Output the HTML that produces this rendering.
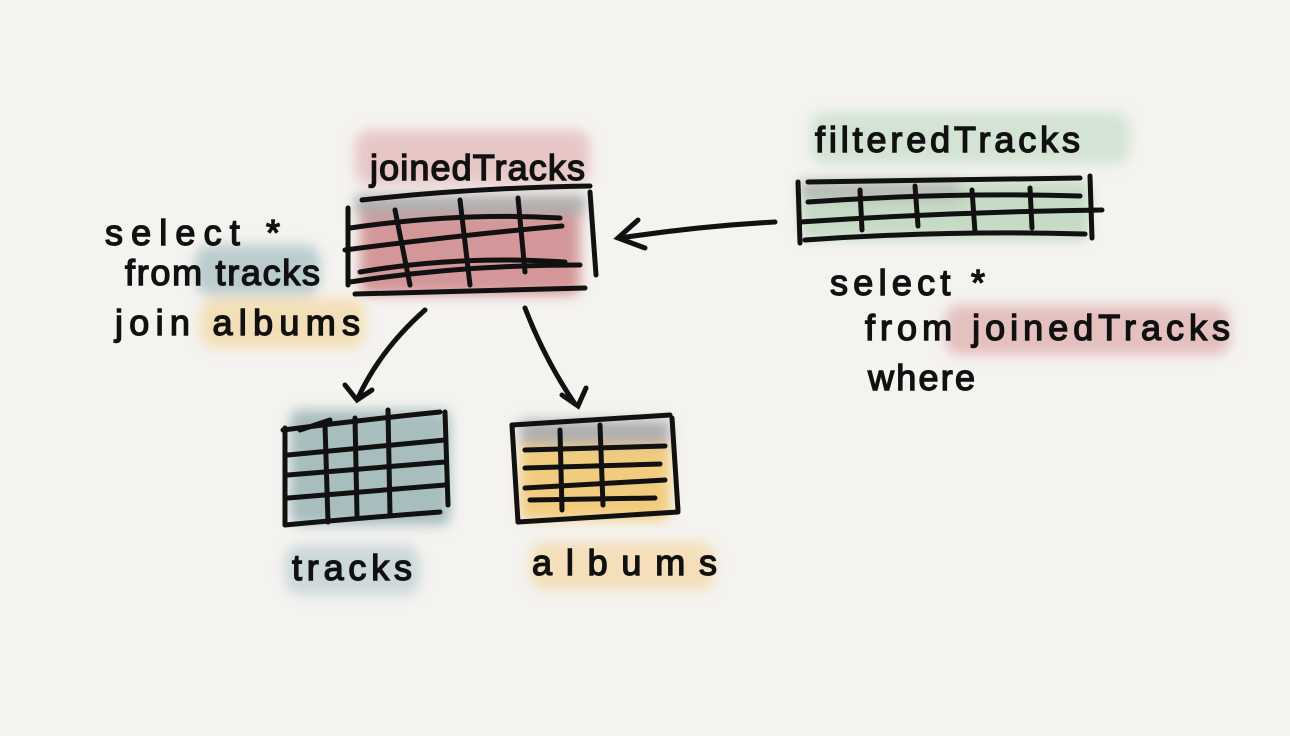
<!DOCTYPE html>
<html><head><meta charset="utf-8"><style>
html,body{margin:0;padding:0;background:#f4f3f0;}
svg{display:block;}
text{font-family:"Liberation Sans",sans-serif;font-size:36px;fill:#111;stroke:#111;stroke-width:1.4;}
</style></head><body>
<svg width="1290" height="736" viewBox="0 0 1290 736">
<defs><filter id="b" x="-20%" y="-40%" width="140%" height="180%"><feGaussianBlur stdDeviation="6"/></filter></defs>
<g filter="url(#b)" opacity="0.75">
<rect x="355" y="130" width="235" height="55" rx="15" fill="#e3b9b9"/>
<rect x="360" y="200" width="220" height="95" rx="10" fill="#c9797c"/>
<rect x="355" y="195" width="230" height="20" fill="#999"/>
<rect x="810" y="112" width="320" height="52" rx="15" fill="#c9dfcb"/>
<rect x="800" y="180" width="290" height="60" rx="10" fill="#b7d3b8"/>
<rect x="800" y="180" width="160" height="20" fill="#a0a8a0"/>
<rect x="195" y="245" width="125" height="50" rx="15" fill="#a8c0c4"/>
<rect x="200" y="298" width="165" height="50" rx="15" fill="#f3d9a4"/>
<rect x="945" y="305" width="285" height="50" rx="15" fill="#dfafaf"/>
<rect x="290" y="410" width="160" height="115" rx="10" fill="#8fabae"/>
<rect x="520" y="420" width="150" height="100" rx="10" fill="#f0bf58"/>
<rect x="520" y="420" width="150" height="25" fill="#999"/>
<rect x="285" y="545" width="135" height="50" rx="15" fill="#bfd0d2"/>
<rect x="530" y="542" width="185" height="48" rx="15" fill="#f4d9a8"/>
</g>
<g stroke="#111" stroke-width="5" stroke-linecap="round" fill="none">
<path d="M362 200 Q470 188 590 186"/>
<path d="M348 208 L348 285"/><path d="M590 192 L596 275"/>
<path d="M350 228 Q460 212 560 218"/><path d="M345 250 Q460 235 562 226"/>
<path d="M360 272 Q460 255 565 262"/><path d="M350 282 Q460 265 580 265"/>
<path d="M355 294 L585 288"/>
<path d="M395 210 L410 285"/><path d="M460 200 L470 285"/><path d="M518 198 L525 272"/>
<path d="M775 222 Q700 226 620 238"/><path d="M638 220 L618 238 L645 248"/>
<path d="M808 182 L1080 178"/><path d="M798 182 L800 243"/><path d="M1090 176 L1092 238"/>
<path d="M808 202 Q950 192 1080 196"/><path d="M800 222 Q950 212 1102 210"/>
<path d="M805 240 Q950 230 1085 234"/>
<path d="M860 190 L862 230"/><path d="M915 186 L918 226"/><path d="M972 190 L975 232"/><path d="M1030 188 L1032 228"/>
<path d="M425 310 Q380 350 358 398"/><path d="M345 385 L357 400 L372 390"/>
<path d="M525 308 Q545 360 575 404"/><path d="M562 395 L578 406 L586 388"/>
<path d="M285 428 L285 525"/><path d="M283 430 Q360 420 440 412"/><path d="M445 412 L448 505"/>
<path d="M288 455 L445 440"/><path d="M288 475 L445 462"/><path d="M288 498 L445 485"/>
<path d="M285 525 Q360 518 440 512"/>
<path d="M325 425 L328 522"/><path d="M355 418 L357 515"/><path d="M388 410 L390 515"/>
<path d="M300 430 L330 420"/>
<path d="M512 425 L670 415"/><path d="M512 425 L518 522"/><path d="M672 418 L678 510"/>
<path d="M518 522 L678 512"/>
<path d="M525 450 L665 446"/><path d="M525 468 L660 464"/><path d="M525 488 L665 480"/><path d="M530 500 L655 498"/>
<path d="M560 430 L562 510"/><path d="M600 425 L603 505"/>
</g>
<text x="370" y="180" textLength="215" lengthAdjust="spacing">joinedTracks</text>
<text x="815" y="152" textLength="265" lengthAdjust="spacing">filteredTracks</text>
<text x="105" y="245" textLength="175" lengthAdjust="spacing">select *</text>
<text x="125" y="285" textLength="195" lengthAdjust="spacing">from tracks</text>
<text x="115" y="335" textLength="245" lengthAdjust="spacing">join albums</text>
<text x="830" y="295" textLength="155" lengthAdjust="spacing">select *</text>
<text x="865" y="340" textLength="365" lengthAdjust="spacing">from  joinedTracks</text>
<text x="868" y="390" textLength="107" lengthAdjust="spacing">where</text>
<text x="292" y="580" textLength="120" lengthAdjust="spacing">tracks</text>
<text x="532" y="575" textLength="185" lengthAdjust="spacing">albums</text>
</svg>
</body></html>
